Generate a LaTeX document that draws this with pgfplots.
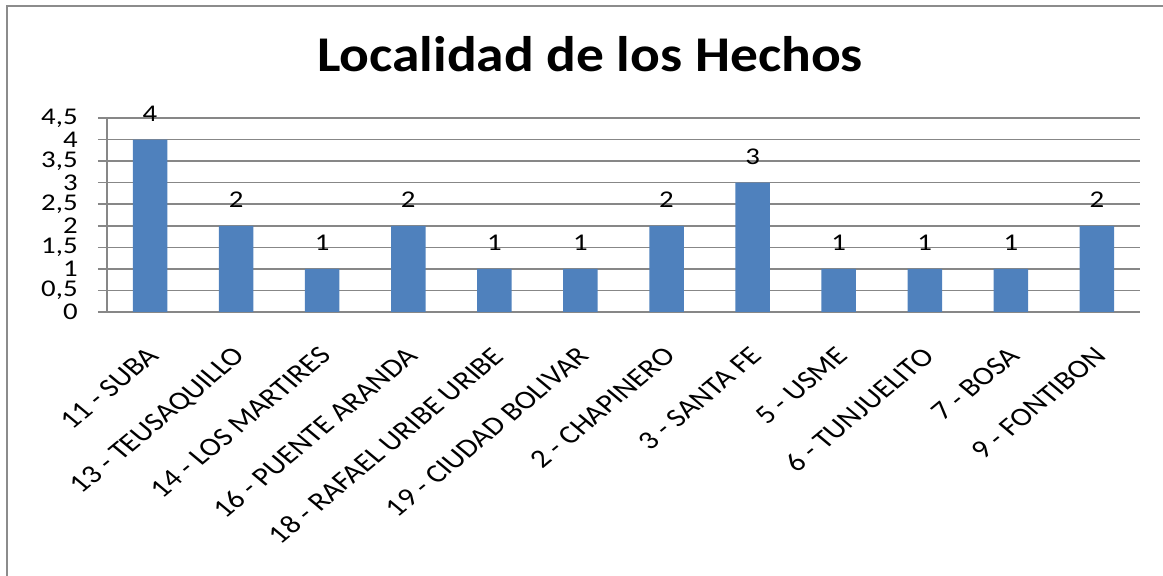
\documentclass[border=0pt]{standalone}
\usepackage{fontspec}
\setmainfont{Carlito}[FakeStretch=1.2]
\newfontfamily\titlefont{Carlito}[FakeStretch=1.11]
\newfontfamily\plainfont{Carlito}
\usepackage{pgfplots}
\pgfplotsset{compat=1.18}
\definecolor{barblue}{HTML}{4F81BD}
\definecolor{gridgray}{HTML}{878787}
\definecolor{framegray}{HTML}{8C8C8C}
\begin{document}
\begin{tikzpicture}
\useasboundingbox (0,0) rectangle (581.5pt,288pt);
\draw[framegray, line width=1pt] (3.5pt,0pt) -- (3.5pt,285pt) -- (582pt,285pt);
\node[font=\titlefont\fontsize{25}{30}\selectfont\bfseries, anchor=base] at (295pt,252pt) {Localidad de los Hechos};
\begin{axis}[
  at={(53.5pt,132pt)}, anchor=south west,
  width=516.5pt, height=97pt, scale only axis,
  xmin=-0.5, xmax=11.5, ymin=0, ymax=4.5,
  axis x line=bottom, axis y line=left,
  axis line style={gridgray, line width=0.8pt, -},
  ytick={0,0.5,...,4.5},
  yticklabels={0,{0,5},1,{1,5},2,{2,5},3,{3,5},4,{4,5}},
  ymajorgrids, grid style={gridgray, line width=0.8pt},
  y tick label style={font=\fontsize{12}{12}\selectfont, inner sep=0pt, xshift=-10pt},
  ytick style={gridgray, line width=0.8pt},
  tick align=outside, major tick length=4.5pt,
  xtick={0,...,11},
  xticklabels={11 - SUBA, 13 - TEUSAQUILLO, 14 - LOS MARTIRES, 16 - PUENTE ARANDA, 18 - RAFAEL URIBE URIBE, 19 - CIUDAD BOLIVAR, 2 - CHAPINERO, 3 - SANTA FE, 5 - USME, 6 - TUNJUELITO, 7 - BOSA, 9 - FONTIBON},
  x tick label style={font=\plainfont\fontsize{13}{14}\selectfont, inner sep=0pt, anchor=north east, xshift=-2pt, yshift=-12pt, xscale=1.2, rotate=45},
  xtick style={draw=none},
  extra x ticks={-0.5,0.5,...,11.5},
  extra x tick labels={},
  extra x tick style={tick style={gridgray, line width=0.8pt}, major tick length=4.5pt, grid=none},
  clip=false,
  nodes near coords,
  every node near coord/.append style={font=\fontsize{12}{12}\selectfont, text=black, yshift=5.5pt},
  /pgf/number format/assume math mode=true,
]
\addplot[ybar, bar width=0.4, fill=barblue, draw=none] coordinates {
(0,4) (1,2) (2,1) (3,2) (4,1) (5,1) (6,2) (7,3) (8,1) (9,1) (10,1) (11,2)
};
\end{axis}
\end{tikzpicture}
\end{document}
